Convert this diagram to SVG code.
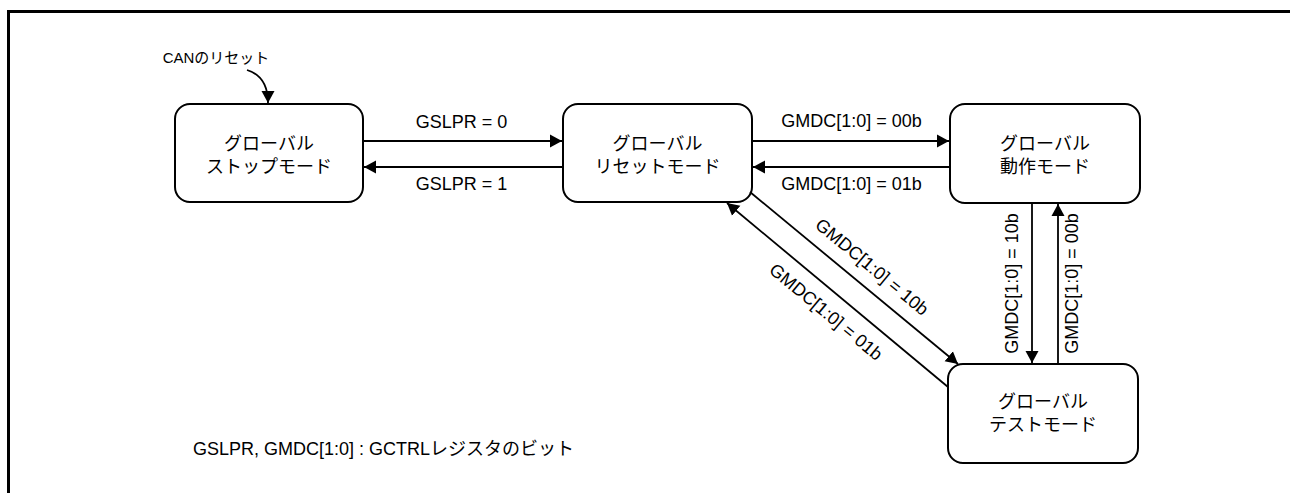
<svg xmlns="http://www.w3.org/2000/svg" width="1290" height="493" viewBox="0 0 1290 493">
<style>
.node{fill:#fff;stroke:#000;stroke-width:2}
.t{font-family:"Liberation Sans","Noto Sans CJK JP",sans-serif;font-size:18px;fill:#000;text-anchor:middle}
.c{stroke:#000;stroke-width:1.8;fill:none}
</style>
<defs>
<marker id="ah" markerUnits="userSpaceOnUse" markerWidth="13" markerHeight="14" refX="12" refY="6.5" orient="auto" viewBox="0 0 13 13">
<path d="M0,0 L12,6.5 L0,13 z" fill="#000"/>
</marker>
</defs>
<rect width="1290" height="493" fill="#fff"/>
<path d="M8.5,493 V11.5 H1290" fill="none" stroke="#000" stroke-width="3"/>

<g id="node-stop">
<rect class="node" x="175" y="104" width="188" height="98" rx="15"/>
<text class="t" x="269" y="150">グローバル</text>
<text class="t" x="269" y="173">ストップモード</text>
</g>
<g id="node-reset">
<rect class="node" x="563" y="104" width="189" height="98" rx="15"/>
<text class="t" x="657.5" y="150">グローバル</text>
<text class="t" x="657.5" y="173">リセットモード</text>
</g>
<g id="node-operation">
<rect class="node" x="950" y="104" width="190" height="99" rx="15"/>
<text class="t" x="1045" y="150">グローバル</text>
<text class="t" x="1045" y="173">動作モード</text>
</g>
<g id="node-test">
<rect class="node" x="948" y="364" width="190" height="99" rx="15"/>
<text class="t" x="1043" y="408">グローバル</text>
<text class="t" x="1043" y="431">テストモード</text>
</g>

<g id="connectors">
<path class="c" d="M247,70 C260,74 268,84 268,103" marker-end="url(#ah)"/>
<path class="c" d="M363,141 H562" marker-end="url(#ah)"/>
<path class="c" d="M563,167 H364" marker-end="url(#ah)"/>
<path class="c" d="M752,141 H949" marker-end="url(#ah)"/>
<path class="c" d="M950,167 H753" marker-end="url(#ah)"/>
<path class="c" d="M1032,203 V363" marker-end="url(#ah)"/>
<path class="c" d="M1058,364 V204" marker-end="url(#ah)"/>
<path class="c" d="M750,192 L958,364" marker-end="url(#ah)"/>
<path class="c" d="M948,387 L727,203" marker-end="url(#ah)"/>
</g>

<g id="labels">
<text class="t" x="216" y="63" style="font-size:15px">CANのリセット</text>
<text class="t" x="461.5" y="128">GSLPR = 0</text>
<text class="t" x="461.5" y="190">GSLPR = 1</text>
<text class="t" x="851.5" y="127">GMDC[1:0] = 00b</text>
<text class="t" x="851.5" y="190">GMDC[1:0] = 01b</text>
<text class="t" dominant-baseline="central" transform="translate(1012,283.5) rotate(-90)">GMDC[1:0] = 10b</text>
<text class="t" dominant-baseline="central" transform="translate(1072,283.5) rotate(-90)">GMDC[1:0] = 00b</text>
<text class="t" dominant-baseline="central" transform="translate(872,267) rotate(39.7)">GMDC[1:0] = 10b</text>
<text class="t" dominant-baseline="central" transform="translate(826,312) rotate(39.7)">GMDC[1:0] = 01b</text>
<text class="t" x="193" y="455" style="text-anchor:start">GSLPR, GMDC[1:0] : GCTRLレジスタのビット</text>
</g>
</svg>
